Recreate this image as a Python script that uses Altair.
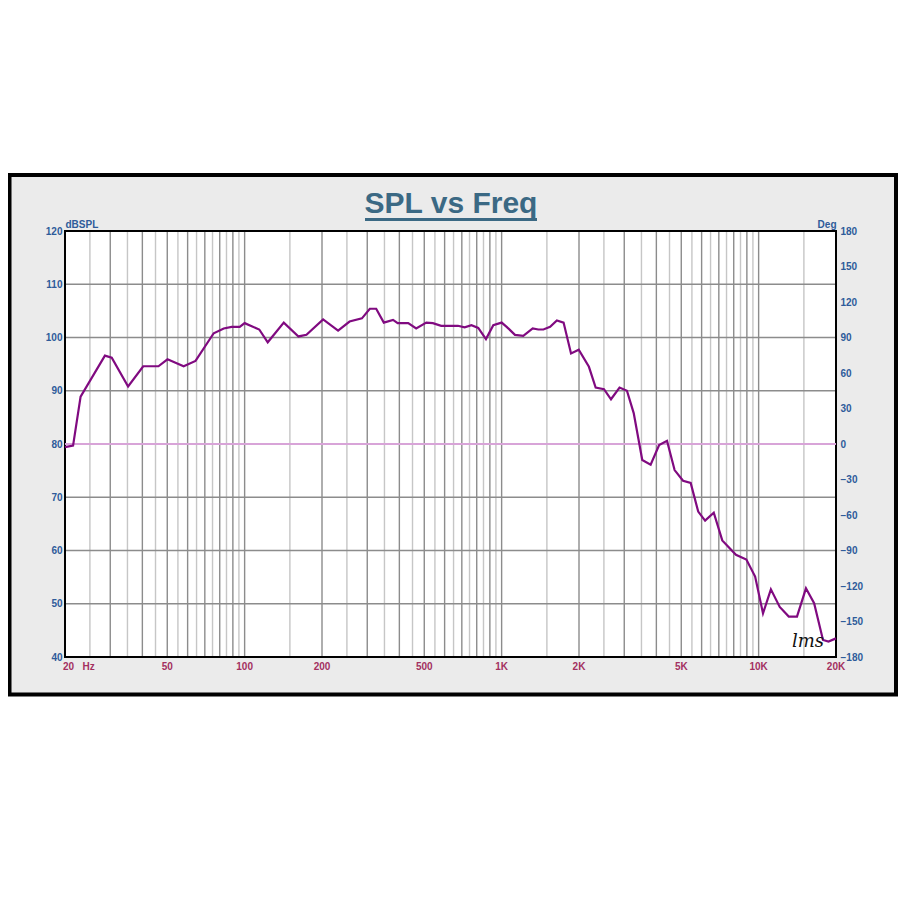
import altair as alt
import pandas as pd

# ---------------- data ----------------
freq_hz = [20, 21.5, 23.0, 28.6, 30.4, 35.2, 40.3, 46.2, 50.1, 57.9, 64.4, 75.8, 82.9, 89.0, 95.7,
           100, 114, 123, 142, 162, 174, 202, 231, 256, 286, 307, 325, 348, 378, 394, 433, 465,
           509, 540, 582, 676, 718, 763, 811, 869, 928, 1000, 1046, 1127, 1214, 1321, 1389, 1454,
           1544, 1640, 1742, 1862, 1995, 2186, 2322, 2502, 2664, 2876, 3073, 3265, 3525, 3800,
           4100, 4400, 4710, 5080, 5440, 5820, 6190, 6690, 7220, 8160, 8960, 9690, 10400, 11160,
           12080, 13100, 14100, 15280, 16440, 17800, 18700, 20000]
spl_db = [79.4, 79.7, 88.9, 96.6, 96.2, 90.8, 94.6, 94.6, 95.9, 94.6, 95.6, 100.8, 101.7, 102.0, 102.0,
          102.7, 101.5, 99.1, 102.8, 100.2, 100.5, 103.4, 101.3, 103.0, 103.6, 105.4, 105.4, 102.8,
          103.3, 102.7, 102.7, 101.7, 102.8, 102.7, 102.2, 102.2, 101.9, 102.3, 101.8, 99.7, 102.3,
          102.8, 102.0, 100.5, 100.3, 101.7, 101.5, 101.5, 102.0, 103.2, 102.8, 97.0, 97.7, 94.5,
          90.6, 90.3, 88.4, 90.6, 90.0, 85.8, 77.0, 76.1, 79.8, 80.6, 75.1, 73.1, 72.7, 67.3, 65.6,
          67.1, 61.9, 59.2, 58.3, 55.1, 48.2, 52.7, 49.4, 47.6, 47.6, 52.9, 50.1, 43.2, 42.9, 43.5]
phase_freq = [20, 20000]
phase_deg = [0, 0]

db_ticks = [40, 50, 60, 70, 80, 90, 100, 110, 120]
deg_ticks = [-180, -150, -120, -90, -60, -30, 0, 30, 60, 90, 120, 150, 180]
x_tick_values = [20, 50, 100, 200, 500, 1000, 2000, 5000, 10000, 20000]
x_tick_labels = ["20\u00a0\u00a0\u00a0Hz", "50", "100", "200", "500", "1K", "2K", "5K", "10K", "20K"]

grid_db = [50, 60, 70, 80, 90, 100, 110]
grid_major = [30, 40, 50, 60, 70, 80, 90, 100, 200, 300, 400, 500, 600, 700, 800, 900,
              1000, 2000, 3000, 4000, 5000, 6000, 7000, 8000, 9000, 10000]
grid_minor = [25, 35, 45, 55, 65, 75, 85, 95, 150, 250, 350, 450, 550, 650, 750, 850, 950,
              1500, 2500, 3500, 4500, 5500, 6500, 7500, 8500, 9500, 15000]

title_text = "SPL vs Freq"
left_title = "dBSPL"
right_title = "Deg"
signature = "lms"

# ---------------- styling ----------------
W, H = 771, 426
FONT = "Liberation Sans"
BLUE = "#2e5b9a"
RED = "#a3305f"
TITLE_C = "#3b6984"

spl_df = pd.DataFrame({"freq": freq_hz, "spl": spl_db})
phase_df = pd.DataFrame({"freq": phase_freq, "deg": phase_deg})
one = pd.DataFrame({"k": [0]})
xlab_first = pd.DataFrame({"f": x_tick_values[:1], "lab": x_tick_labels[:1]})
xlab_rest = pd.DataFrame({"f": x_tick_values[1:], "lab": x_tick_labels[1:]})

xscale = alt.Scale(type="log", domain=[20, 20000], nice=False)
dbscale = alt.Scale(domain=[40, 120], nice=False, zero=False)
degscale = alt.Scale(domain=[-180, 180], nice=False, zero=False)

left_axis = alt.Axis(values=db_ticks, orient="left", labelColor=BLUE, labelFont=FONT, labelFontSize=10,
                     labelFontWeight="bold", labelPadding=3, ticks=False, domain=False, grid=False,
                     labelOverlap=False, labelFlush=False, labelBound=False,
                     title=left_title, titleAngle=0, titleX=0, titleY=-4, titleAlign="left",
                     titleBaseline="alphabetic", titleColor=BLUE, titleFont=FONT, titleFontSize=10,
                     titleFontWeight="bold", zindex=1)
right_axis = alt.Axis(values=deg_ticks, orient="right", labelColor=BLUE, labelFont=FONT, labelFontSize=10,
                      labelFontWeight="bold", labelPadding=4, ticks=False, domain=False, grid=False,
                      labelOverlap=False, labelFlush=False, labelBound=False,
                      title=right_title, titleAngle=0, titleX=0, titleY=-4, titleAlign="right",
                      titleBaseline="alphabetic", titleColor=BLUE, titleFont=FONT, titleFontSize=10,
                      titleFontWeight="bold", zindex=1)

frame = alt.Chart(one).mark_rect(fill="#ebebeb", stroke="#000000", strokeWidth=4).encode(
    x=alt.value(-55.5), x2=alt.value(831), y=alt.value(-56), y2=alt.value(463.5))
plotbg = alt.Chart(one).mark_rect(fill="white").encode(
    x=alt.value(0), x2=alt.value(W), y=alt.value(0), y2=alt.value(H))

vminor = alt.Chart(pd.DataFrame({"f": grid_minor})).mark_rule(color="#c6c6c6", strokeWidth=1.4).encode(
    x=alt.X("f:Q", scale=xscale, axis=None))
vmajor = alt.Chart(pd.DataFrame({"f": grid_major})).mark_rule(color="#8c8c8c", strokeWidth=1.4).encode(
    x=alt.X("f:Q", scale=xscale, axis=None))
hgrid = alt.Chart(pd.DataFrame({"v": grid_db})).mark_rule(color="#8c8c8c", strokeWidth=1.4).encode(
    y=alt.Y("v:Q", scale=dbscale, axis=None))
border = alt.Chart(one).mark_rect(fillOpacity=0, stroke="#000000", strokeWidth=2).encode(
    x=alt.value(0), x2=alt.value(W), y=alt.value(0), y2=alt.value(H))

phase = alt.Chart(phase_df).mark_line(color="#d8a4d8", strokeWidth=2).encode(
    x=alt.X("freq:Q", scale=xscale, axis=None),
    y=alt.Y("deg:Q", scale=degscale, axis=right_axis))
spl = alt.Chart(spl_df).mark_line(color="#800a80", strokeWidth=2.2).encode(
    x=alt.X("freq:Q", scale=xscale, axis=None),
    y=alt.Y("spl:Q", scale=dbscale, axis=left_axis))

xl1 = alt.Chart(xlab_first).mark_text(font=FONT, fontSize=10, fontWeight="bold", color=RED,
                                      align="left", baseline="middle", dx=-2).encode(
    x=alt.X("f:Q", scale=xscale, axis=None), y=alt.value(H + 10), text="lab:N")
xl2 = alt.Chart(xlab_rest).mark_text(font=FONT, fontSize=10, fontWeight="bold", color=RED,
                                     align="center", baseline="middle").encode(
    x=alt.X("f:Q", scale=xscale, axis=None), y=alt.value(H + 10), text="lab:N")

title = alt.Chart(one).mark_text(text=title_text, font=FONT, fontSize=30, fontWeight="bold",
                                 color=TITLE_C, align="center", baseline="alphabetic").encode(
    x=alt.value(386), y=alt.value(-18))
underline = alt.Chart(one).mark_rule(color=TITLE_C, strokeWidth=3).encode(
    x=alt.value(300), x2=alt.value(472), y=alt.value(-11.5))
sig = alt.Chart(one).mark_text(text=signature, font="DejaVu Serif", fontStyle="italic", fontSize=18,
                               color="#111111", align="center", baseline="alphabetic").encode(
    x=alt.value(743), y=alt.value(416))

chart = alt.layer(frame, plotbg, vminor, vmajor, hgrid, border, phase, spl, xl1, xl2,
                  title, underline, sig).resolve_scale(
    y="independent"
).properties(
    width=W, height=H,
    autosize=alt.AutoSizeParams(type="none"),
    padding={"left": 57, "top": 223, "right": 63, "bottom": 230},
    background="white",
).configure_view(strokeWidth=0)

chart.save("out.html", embed_options={"renderer": "svg", "actions": False})
